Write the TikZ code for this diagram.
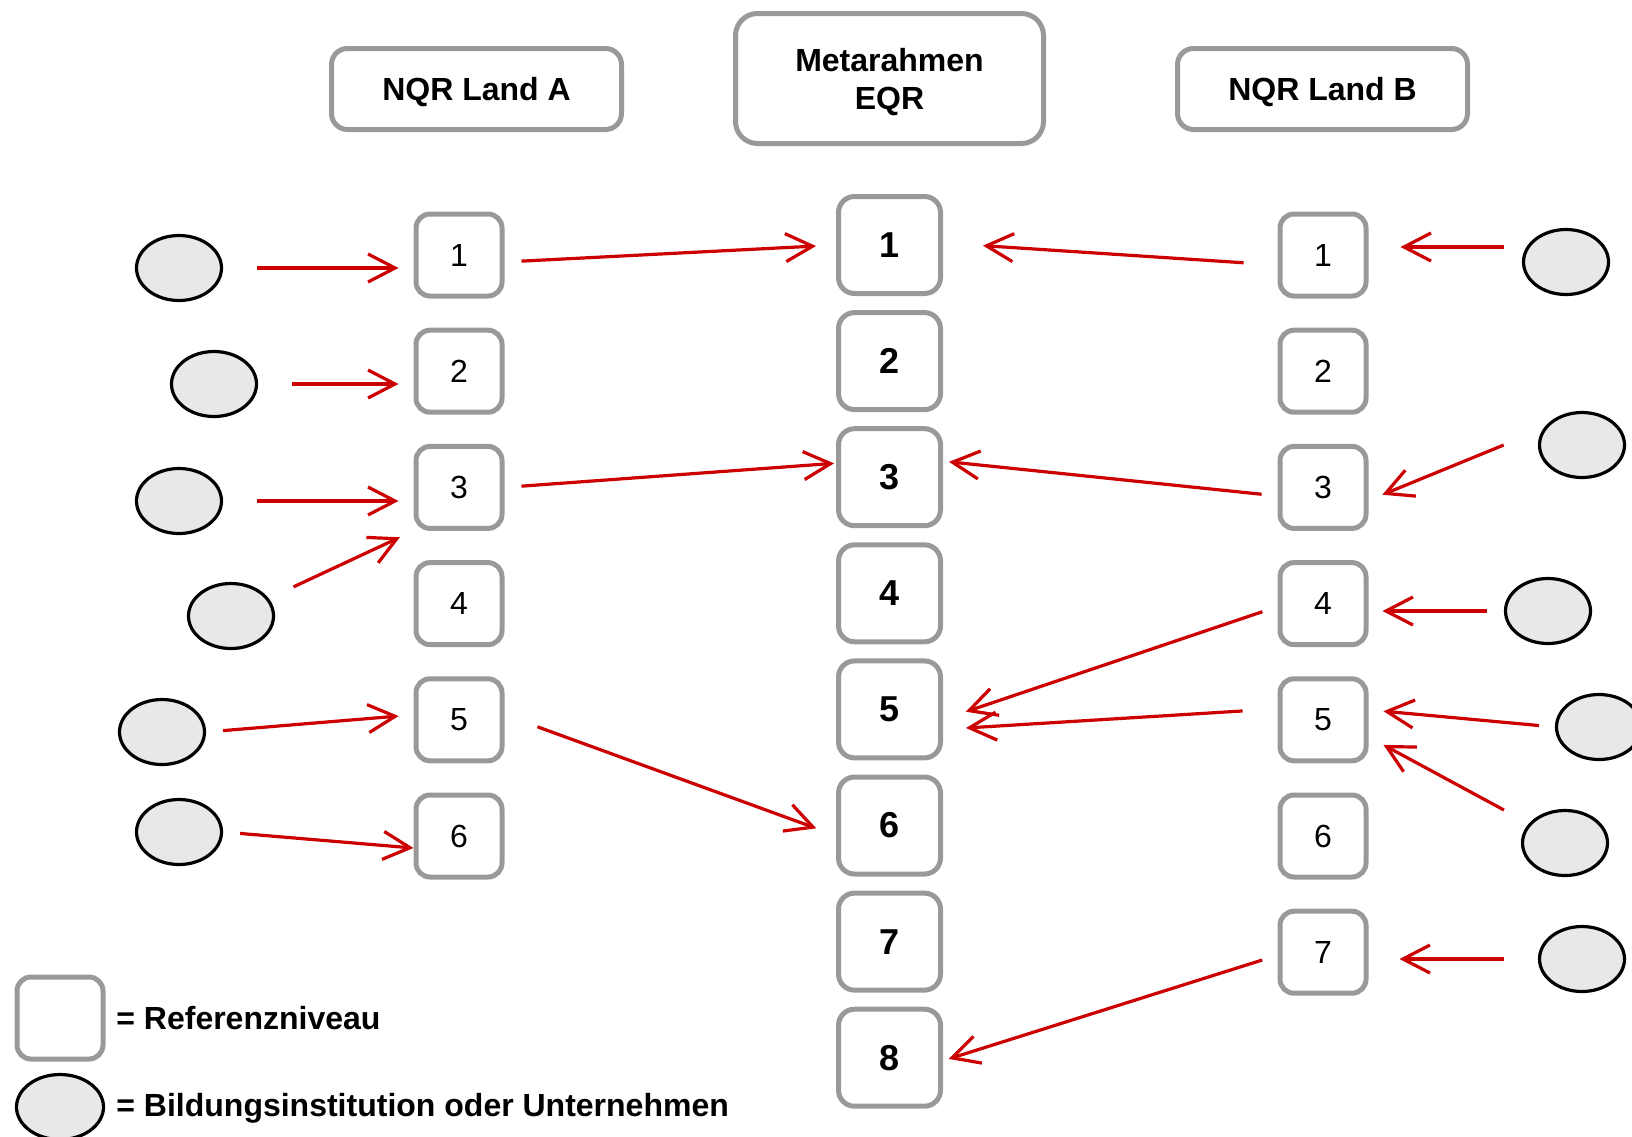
\documentclass[tikz,border=0pt]{standalone}
\usepackage{fontspec}
\setmainfont{Liberation Sans}
\usetikzlibrary{shapes.geometric,arrows.meta}

\definecolor{boxgray}{RGB}{153,153,153}
\definecolor{arrowred}{RGB}{204,0,0}
\definecolor{instfill}{RGB}{232,232,232}

\tikzset{
  lvl/.style={draw=boxgray, line width=2.5pt, rounded corners=7pt, minimum width=43pt, minimum height=41pt, inner sep=0pt, font=\fontsize{16}{19}\selectfont},
  eqr/.style={lvl, minimum width=51pt, minimum height=48.5pt, rounded corners=8pt, font=\fontsize{18}{21}\selectfont\bfseries},
  head/.style={draw=boxgray, line width=2.5pt, rounded corners=8pt, minimum width=145pt, minimum height=40.5pt, inner sep=0pt, text height=14.5pt, align=center, font=\fontsize{16}{18.75}\selectfont\bfseries},
  inst/.style={ellipse, draw=black, fill=instfill, line width=1.6pt, minimum width=42.5pt, minimum height=32.5pt, inner sep=0pt},
  arr/.style={draw=arrowred, line width=1.6pt, -{Straight Barb[length=13.5pt,width=14pt]}},
  keytext/.style={anchor=west, inner sep=0pt, font=\fontsize{16}{19}\selectfont\bfseries}
}

\begin{document}
\begin{tikzpicture}[x=0.5pt,y=-0.5pt]
        \useasboundingbox (0,0) rectangle (1632,1136);

        % draw headers
        \node[head] (landA) at (476.5,89) {NQR Land A};
        \node[head, minimum width=154pt, minimum height=65pt, rounded corners=11pt, text height=34pt] (meta) at (889.5,78.5) {Metarahmen\\EQR};
        \node[head] (landB) at (1322.5,89) {NQR Land B};

        % draw levels
        \foreach \i in {1,...,6}
          \node[lvl] (a\i) at (459,{255+116.2*(\i-1)}) {\i};
        \foreach \i in {1,...,8}
          \node[eqr] (m\i) at (889.5,{245+116.1*(\i-1)}) {\i};
        \foreach \i in {1,...,7}
          \node[lvl] (b\i) at (1323,{255+116.2*(\i-1)}) {\i};

        % draw institutions
        \node[inst] (ia1) at (179,268) {};
        \node[inst] (ia2) at (214,384) {};
        \node[inst] (ia3) at (179,501) {};
        \node[inst] (ia4) at (231,616) {};
        \node[inst] (ia5) at (162,732) {};
        \node[inst] (ia6) at (179,832) {};
        \node[inst] (ib1) at (1566,262) {};
        \node[inst] (ib3) at (1582,445) {};
        \node[inst] (ib4) at (1548,611) {};
        \node[inst] (ib5) at (1599,727) {};
        \node[inst] (ib6) at (1565,843) {};
        \node[inst] (ib7) at (1582,959) {};

        % institutions to NQR Land A
        \draw[arr, shorten <=17pt, shorten >=7.5pt] (ia1.east) -- (a1.west |- ia1);
        \draw[arr, shorten <=17pt, shorten >=7.5pt] (ia2.east) -- (a2.west |- ia2);
        \draw[arr, shorten <=17pt, shorten >=7.5pt] (ia3.east) -- (a3.west |- ia3);
        \draw[arr, shorten <=34.5pt, shorten >=7.5pt] (ia4.center) -- (a3.south west);
        \draw[arr, shorten <=8.5pt, shorten >=7.5pt] (ia5.east) -- ([yshift=2.5pt]a5.west);
        \draw[arr, shorten <=8.5pt] (ia6.east) -- ([yshift=-6pt]a6.west);

        % NQR Land A to EQR
        \draw[arr, shorten <=8.5pt, shorten >=10pt] ([yshift=-3.5pt]a1.east) -- (m1.west);
        \draw[arr, shorten <=8.5pt, shorten >=1pt] (a3.east) -- ([yshift=7pt]m3.west);
        \draw[arr, shorten <=17.5pt, shorten >=10.5pt] ([yshift=2.5pt]a5.east) -- ([yshift=-5pt]m6.west);

        % NQR Land B to EQR
        \draw[arr, shorten <=17pt, shorten >=20pt] ([yshift=-5pt]b1.west) -- ([yshift=1pt]m1.east);
        \draw[arr, shorten <=8pt, shorten >=3pt] ([yshift=-4.25pt]b3.west) -- ([yshift=8pt]m3.east);
        \draw[arr, shorten <=8pt, shorten >=12pt] ([yshift=-1.5pt]b4.west) -- ([yshift=-5pt]m5.east);
        \draw[arr, shorten <=17.5pt, shorten >=11.5pt] ([yshift=5.5pt]b5.west) -- ([yshift=-10pt]m5.east);
        \draw[arr, shorten <=8pt, shorten >=3pt] ([yshift=-1.5pt]b7.west) -- ([yshift=-1.5pt]m8.east);

        % institutions to NQR Land B
        \draw[arr, shorten <=9pt, shorten >=16pt] ([yshift=7.5pt]ib1.west) -- ([yshift=4pt]b1.east);
        \draw[arr, shorten <=18.5pt, shorten >=7.5pt] ([yshift=7pt]ib3.west) -- ([yshift=-6.5pt]b3.east);
        \draw[arr, shorten <=8.5pt, shorten >=7pt] (ib4.west) -- (b4.east |- ib4);
        \draw[arr, shorten <=8pt, shorten >=7.5pt] (ib5.west) -- ([yshift=5pt]b5.east);
        \draw[arr, shorten <=34.7pt, shorten >=8.5pt] (ib6.center) -- ([yshift=-8.5pt]b5.east);
        \draw[arr, shorten <=17pt, shorten >=15.5pt] (ib7.west) -- (b7.east |- ib7);

        % draw legend
        \node[lvl] (keybox) at (60,1018) {};
        \node[inst, minimum width=43.5pt] (keyinst) at (60,1107) {};
        \node[keytext] (keytxt1) at (116,1018) {= Referenzniveau};
        \node[keytext] (keytxt2) at (116,1108) {= Bildungsinstitution oder Unternehmen};
\end{tikzpicture}
\end{document}
